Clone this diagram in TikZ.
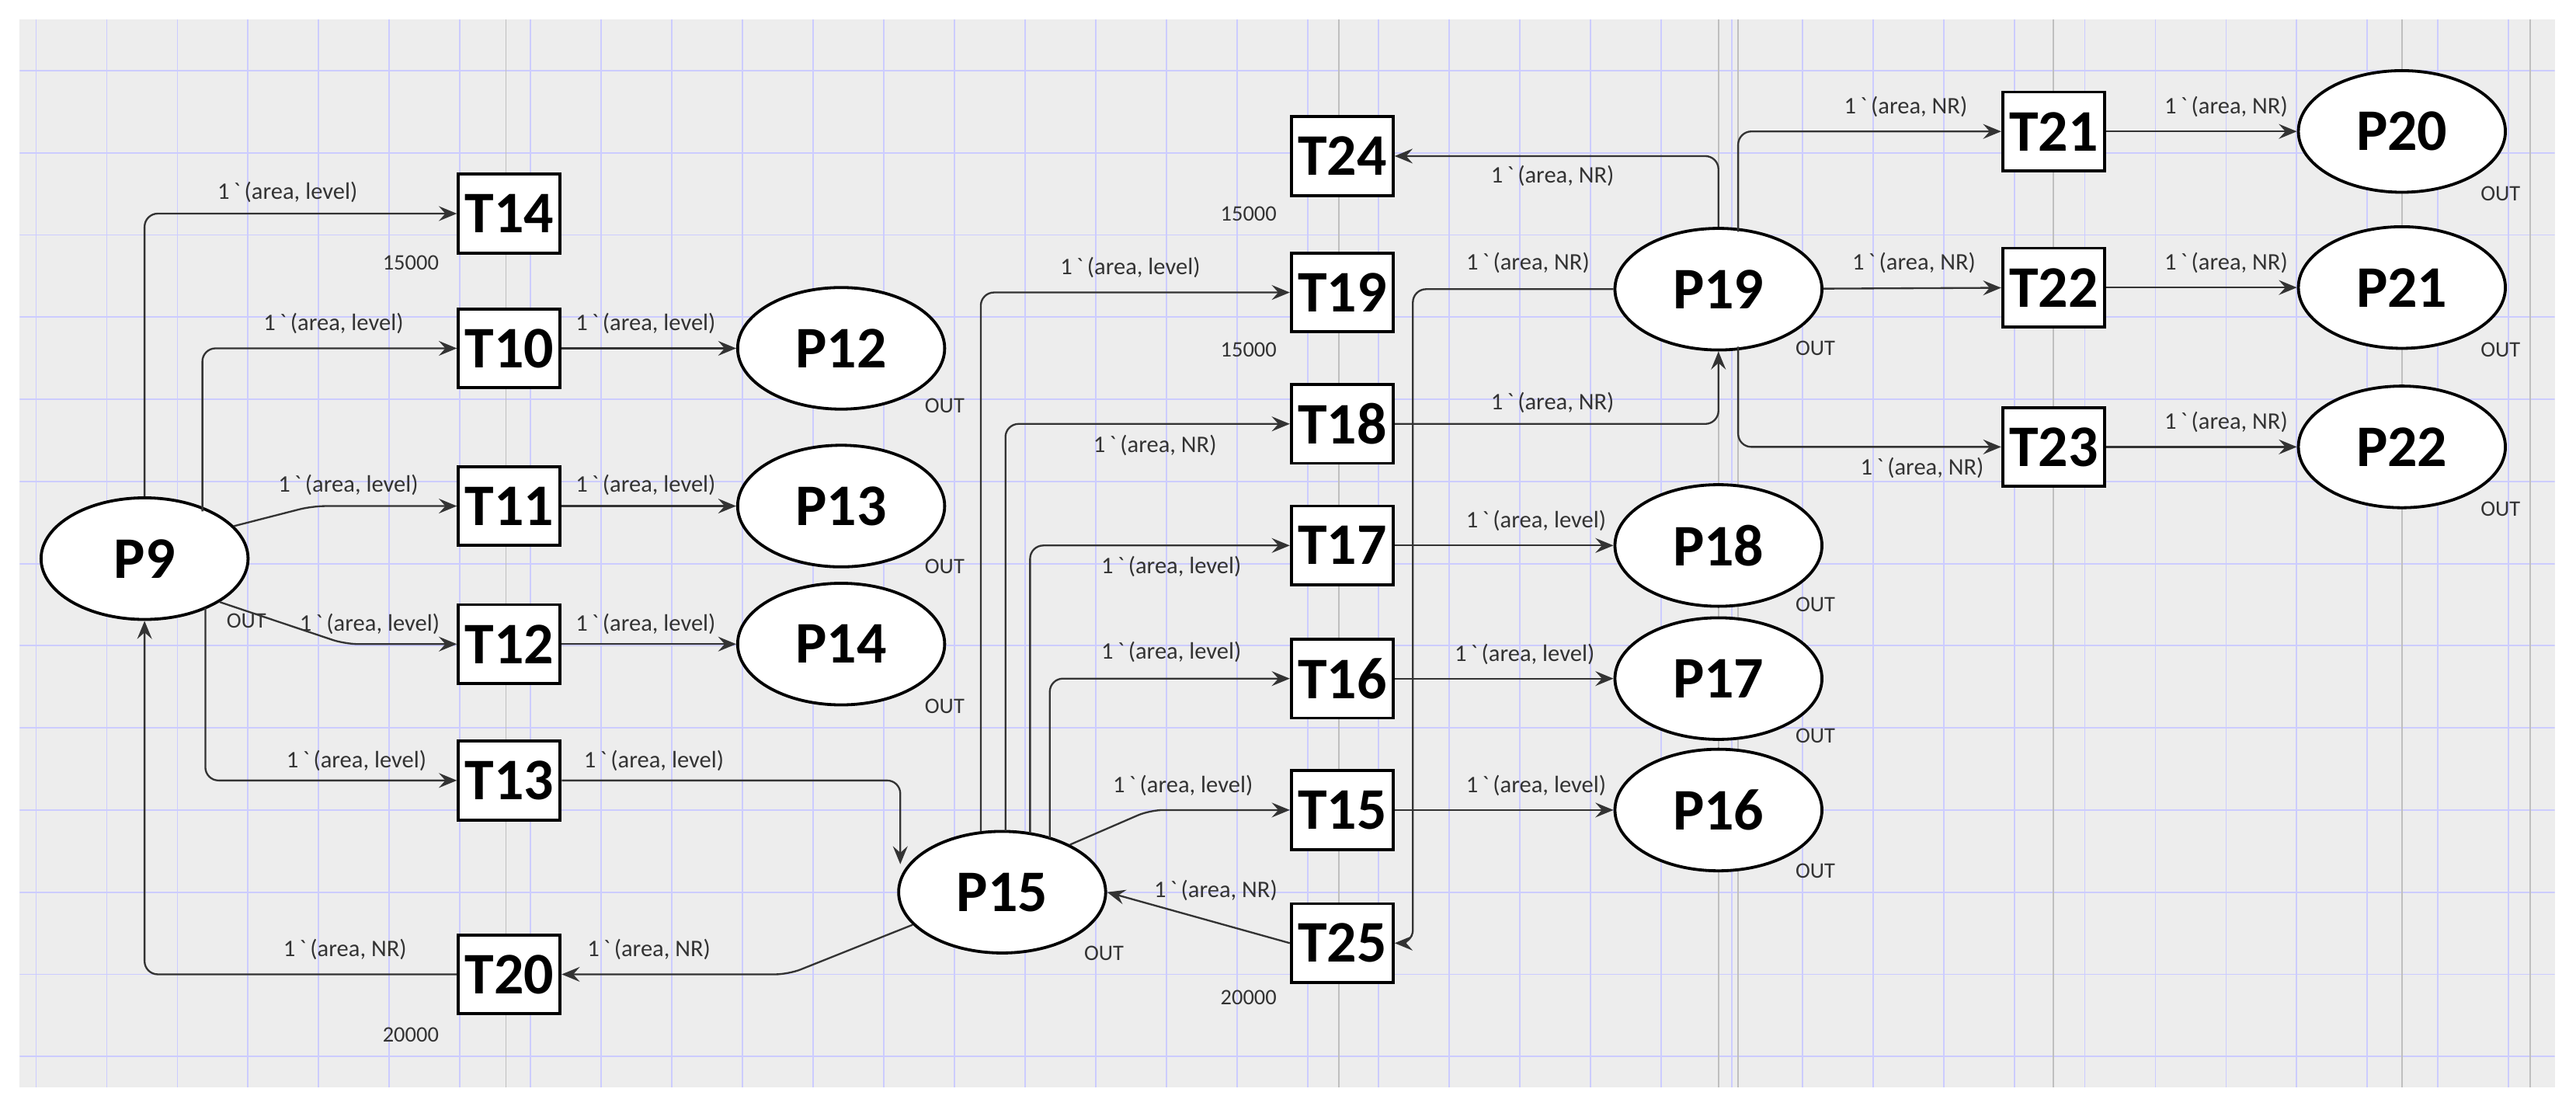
\documentclass[tikz,border=0pt]{standalone}
\usepackage{fontspec}
\setmainfont{Carlito}
\usetikzlibrary{arrows.meta,shapes.geometric}
\newcommand{\bq}{1\,\textasciigrave\,}
\begin{document}
\begin{tikzpicture}[x=1bp,y=-1bp,
  pl/.style={ellipse,draw,line width=1.8bp,fill=white,minimum width=126bp,minimum height=74bp,inner sep=0,font=\fontsize{36}{38}\selectfont\bfseries},
  tr/.style={rectangle,draw,line width=1.8bp,fill=white,minimum width=62bp,minimum height=48bp,inner sep=0,font=\fontsize{36}{38}\selectfont\bfseries},
  e/.style={draw=black!80,line width=1.1bp,-{Stealth[length=11bp,width=9bp,inset=4bp]},rounded corners=8bp},
  lb/.style={font=\fontsize{14.5}{16}\selectfont,text=black!80,inner sep=1bp},
  sm/.style={font=\fontsize{13.5}{15}\selectfont,text=black!80,inner sep=1bp}]
\useasboundingbox (0,0) rectangle (1568,677);
\fill[white] (0,0) rectangle (1568,677);
\fill[black!7] (12,12) rectangle (1555,662);
\begin{scope}
\clip (12,12) rectangle (1555,662);
\foreach \x in {22,65,...,1560} \draw[blue!20,line width=0.9bp] (\x,12)--(\x,662);
\foreach \y in {43,93,...,662} \draw[blue!20,line width=0.9bp] (12,\y)--(1555,\y);
\foreach \x in {308,815,1046,1058,1250,1462,1540} \draw[black!25,line width=0.8bp] (\x,12)--(\x,662);
\end{scope}
% nodes
\node[pl] (P9) at (88,340) {P9};
\node[tr] (T14) at (310,130) {T14};
\node[tr] (T10) at (310,212) {T10};
\node[tr] (T11) at (310,308) {T11};
\node[tr] (T12) at (310,392) {T12};
\node[tr] (T13) at (310,475) {T13};
\node[tr] (T20) at (310,593) {T20};
\node[pl] (P12) at (512,212) {P12};
\node[pl] (P13) at (512,308) {P13};
\node[pl] (P14) at (512,392) {P14};
\node[pl] (P15) at (610,543) {P15};
\node[tr] (T24) at (817,95) {T24};
\node[tr] (T19) at (817,178) {T19};
\node[tr] (T18) at (817,258) {T18};
\node[tr] (T17) at (817,332) {T17};
\node[tr] (T16) at (817,413) {T16};
\node[tr] (T15) at (817,493) {T15};
\node[tr] (T25) at (817,574) {T25};
\node[pl] (P19) at (1046,176) {P19};
\node[pl] (P18) at (1046,332) {P18};
\node[pl] (P17) at (1046,413) {P17};
\node[pl] (P16) at (1046,493) {P16};
\node[tr] (T21) at (1250,80) {T21};
\node[tr] (T22) at (1250,175) {T22};
\node[tr] (T23) at (1250,272) {T23};
\node[pl] (P20) at (1462,80) {P20};
\node[pl] (P21) at (1462,175) {P21};
\node[pl] (P22) at (1462,272) {P22};
% P9 outputs
\draw[e] (P9.north) |- (T14.west);
\draw[e] (P9.north east) ++(-10,-2) |- (T10.west);
\draw[e] (P9.20) -- (190,308) -- (T11.west);
\draw[e] (P9.-30) -- (210,392) -- (T12.west);
\draw[e] (125,370) |- (T13.west);
\draw[e] (T20.west) -| (P9.south);
\draw[e] (P15.200) -- (480,593) -- (T20.east);
\draw[e] (T13.east) -| (548,526);
\draw[e] (T10) -- (P12);
\draw[e] (T11) -- (P13);
\draw[e] (T12) -- (P14);
% P15 outputs
\draw[e] (597,506) |- (T19.west);
\draw[e] (612,506) |- (T18.west);
\draw[e] (627,507) |- (T17.west);
\draw[e] (639,510) |- (T16.west);
\draw[e] (P15.35) -- (700,493) -- (T15.west);
\draw[e] (T25.west) -- (P15.east);
\draw[e] (T17) -- (P18);
\draw[e] (T16) -- (P17);
\draw[e] (T15) -- (P16);
% P19 related
\draw[e] (T18.east) -| (P19.south);
\draw[e] (P19.west) -- (860,176) |- (T25.east);
\draw[e] (P19.north) |- (T24.east);
\draw[e] (1058,141) |- (T21.west);
\draw[e] (P19) -- (T22);
\draw[e] (1058,211) |- (T23.west);
\draw[e] (T21) -- (P20);
\draw[e] (T22) -- (P21);
\draw[e] (T23) -- (P22);
% labels
\node[lb] at (175,117) {\bq(area, level)};
\node[lb] at (203,197) {\bq(area, level)};
\node[lb] at (212,295) {\bq(area, level)};
\node[lb] at (225,380) {\bq(area, level)};
\node[lb] at (217,463) {\bq(area, level)};
\node[lb] at (210,578) {\bq(area, NR)};
\node[lb] at (395,578) {\bq(area, NR)};
\node[lb] at (398,463) {\bq(area, level)};
\node[lb] at (393,197) {\bq(area, level)};
\node[lb] at (393,295) {\bq(area, level)};
\node[lb] at (393,380) {\bq(area, level)};
\node[lb] at (688,163) {\bq(area, level)};
\node[lb] at (703,271) {\bq(area, NR)};
\node[lb] at (713,345) {\bq(area, level)};
\node[lb] at (713,397) {\bq(area, level)};
\node[lb] at (720,478) {\bq(area, level)};
\node[lb] at (740,542) {\bq(area, NR)};
\node[lb] at (935,317) {\bq(area, level)};
\node[lb] at (928,398) {\bq(area, level)};
\node[lb] at (935,478) {\bq(area, level)};
\node[lb] at (945,245) {\bq(area, NR)};
\node[lb] at (930,160) {\bq(area, NR)};
\node[lb] at (945,107) {\bq(area, NR)};
\node[lb] at (1160,65) {\bq(area, NR)};
\node[lb] at (1165,160) {\bq(area, NR)};
\node[lb] at (1170,285) {\bq(area, NR)};
\node[lb] at (1355,65) {\bq(area, NR)};
\node[lb] at (1355,160) {\bq(area, NR)};
\node[lb] at (1355,257) {\bq(area, NR)};
% OUT
\foreach \p in {(150,378),(575,247),(575,345),(575,430),(672,580),(1105,368),(1105,448),(1105,530),(1105,212),(1522,118),(1522,213),(1522,310)} \node[sm] at \p {OUT};
\node[sm] at (250,160) {15000};
\node[sm] at (760,130) {15000};
\node[sm] at (760,213) {15000};
\node[sm] at (250,630) {20000};
\node[sm] at (760,607) {20000};
\end{tikzpicture}
\end{document}
